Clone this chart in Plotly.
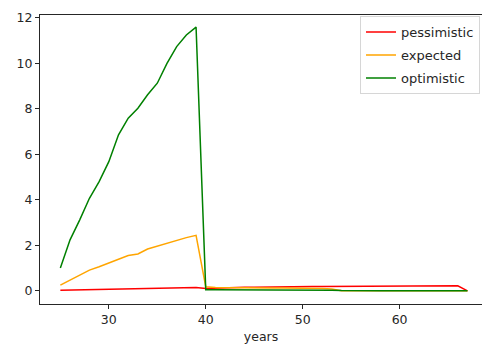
import plotly.graph_objects as go

# Age in years for each scenario point
years = list(range(25, 68))

pessimistic = [0.02, 0.03, 0.04, 0.05, 0.06, 0.07, 0.08, 0.09, 0.10, 0.11,
               0.12, 0.13, 0.14, 0.15, 0.15, 0.10, 0.12, 0.14, 0.15, 0.16,
               0.16, 0.17, 0.17, 0.18, 0.18, 0.19, 0.19, 0.19, 0.19, 0.19,
               0.19, 0.19, 0.19, 0.20, 0.20, 0.21, 0.21, 0.21, 0.20, 0.21,
               0.22, 0.22, 0.00]

expected = [0.25, 0.47, 0.69, 0.91, 1.06, 1.21, 1.39, 1.55, 1.62, 1.84,
            1.97, 2.09, 2.24, 2.34, 2.44, 0.18, 0.15, 0.14, 0.14, 0.13,
            0.13, 0.12, 0.12, 0.12, 0.12, 0.11, 0.10, 0.10, 0.08, 0.00,
            0.00, 0.00, 0.00, 0.00, 0.00, 0.00, 0.00, 0.00, 0.00, 0.00,
            0.00, 0.00, 0.00]

optimistic = [1.00, 2.24, 3.12, 4.07, 4.80, 5.68, 6.86, 7.59, 8.03, 8.62,
              9.13, 10.00, 10.74, 11.25, 11.60, 0.05, 0.05, 0.05, 0.05, 0.05,
              0.05, 0.05, 0.05, 0.05, 0.05, 0.05, 0.04, 0.04, 0.03, 0.01,
              0.00, 0.00, 0.00, 0.00, 0.00, 0.00, 0.00, 0.00, 0.00, 0.00,
              0.00, 0.00, 0.00]

series = [("pessimistic", pessimistic, "red"),
          ("expected", expected, "orange"),
          ("optimistic", optimistic, "green")]

x_ticks = [30, 40, 50, 60]
y_ticks = [0, 2, 4, 6, 8, 10, 12]

fig = go.Figure()
for name, values, color in series:
    fig.add_trace(go.Scatter(x=years, y=values, mode="lines", name=name,
                             legendgroup=name,
                             line=dict(color=color, width=1.5)))

font = dict(family="DejaVu Sans", size=12.5, color="#262626")
legend_font = dict(family="DejaVu Sans", size=13, color="#262626")

fig.update_layout(
    width=482, height=347,
    margin=dict(l=40, r=0, t=15, b=43),
    plot_bgcolor="white", paper_bgcolor="white",
    font=font,
    showlegend=True,
    legend=dict(x=0.9955, y=0.996, xanchor="right", yanchor="top",
                bgcolor="rgba(255,255,255,0.8)", bordercolor="#d6d6d6",
                borderwidth=1, font=legend_font,
                itemwidth=30, tracegroupgap=3),
    xaxis=dict(range=[22.9, 68.5], tickvals=x_ticks, showgrid=False, zeroline=False,
               showline=True, linecolor="#262626", linewidth=1, mirror=True,
               ticks="outside", ticklen=4, tickcolor="#262626",
               title=dict(text="years", font=font, standoff=6)),
    yaxis=dict(range=[-0.58, 12.13], tickvals=y_ticks, showgrid=False, zeroline=False,
               showline=True, linecolor="#262626", linewidth=1, mirror=False,
               ticks="outside", ticklen=4, tickcolor="#262626"),
)

fig.write_html("out.html")
